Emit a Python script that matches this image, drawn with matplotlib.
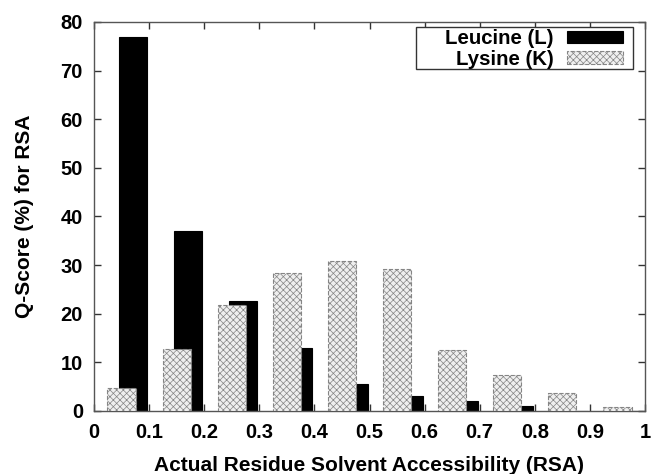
import matplotlib
matplotlib.use("Agg")
import matplotlib.pyplot as plt
import matplotlib.patches as patches
import numpy as np

# RSA bins (left edge) and Q-scores
bins = [0.0, 0.1, 0.2, 0.3, 0.4, 0.5, 0.6, 0.7, 0.8, 0.9]
leucine = [77.0, 37.0, 22.7, 13.0, 5.6, 3.0, 2.0, 1.0, 0.0, 0.0]
lysine = [4.7, 12.8, 21.9, 28.4, 30.9, 29.2, 12.5, 7.5, 3.6, 0.9]
xticks = [0, 0.1, 0.2, 0.3, 0.4, 0.5, 0.6, 0.7, 0.8, 0.9, 1]
xtick_labels = ["0", "0.1", "0.2", "0.3", "0.4", "0.5", "0.6", "0.7", "0.8", "0.9", "1"]
yticks = [0, 10, 20, 30, 40, 50, 60, 70, 80]

plt.rcParams['font.family'] = ['Liberation Sans', 'DejaVu Sans']
plt.rcParams['font.weight'] = 'bold'
plt.rcParams['hatch.color'] = '#bdbdbd'
plt.rcParams['hatch.linewidth'] = 0.5

W, H = 654, 474
fig = plt.figure(figsize=(W / 100, H / 100), dpi=100)
ax = fig.add_axes([94 / W, 1 - 411 / H, (645 - 94) / W, (411 - 22) / H])

x = np.array(bins)
width = 0.051
ax.bar(x + 0.071, leucine, width, color='black', edgecolor='black',
       linewidth=0.8, label='Leucine (L)', zorder=2)
ax.bar(x + 0.050, lysine, width, color='#efefef', edgecolor='#858585',
       linewidth=0.8, linestyle='--', hatch='xxxxx', label='Lysine (K)', zorder=3)

ax.set_xlim(0, 1)
ax.set_ylim(0, 80)
ax.set_xticks(xticks)
ax.set_xticklabels(xtick_labels)
ax.set_yticks(yticks)
ax.tick_params(direction='in', top=True, right=True, length=5, width=1,
               labelsize=14.5, color='#333333')
ax.tick_params(axis='x', pad=9)
ax.tick_params(axis='y', pad=8)
for s in ax.spines.values():
    s.set_color('#555555')
    s.set_linewidth(1)

ax.set_xlabel('Actual Residue Solvent Accessibility (RSA)', fontsize=15,
              fontweight='bold', labelpad=10)
ax.set_ylabel('Q-Score (%) for RSA', fontsize=15, fontweight='bold', labelpad=19)

# gnuplot-style key: text right-aligned, sample on the right, wide box
leg = ax.legend(loc='upper right', bbox_to_anchor=(623 / W, 1 - 29 / H),
                bbox_transform=fig.transFigure, markerfirst=False, fontsize=14.7,
                frameon=False, borderpad=0, handlelength=2.75, handleheight=0.55,
                labelspacing=0.08, handletextpad=0.65, borderaxespad=0)
key_box = patches.Rectangle((416 / W, 1 - 69 / H), (633 - 416) / W, 42 / H,
                            transform=fig.transFigure, fill=True, facecolor='white',
                            edgecolor='#333333', linewidth=1, zorder=4)
ax.add_artist(key_box)
key_box.set_clip_on(False)
leg.set_zorder(5)

fig.savefig('out.png', dpi=100)
